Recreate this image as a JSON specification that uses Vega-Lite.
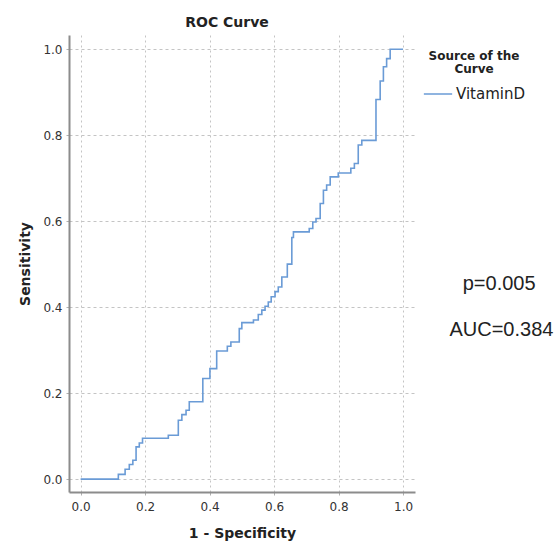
{
  "$schema": "https://vega.github.io/schema/vega-lite/v6.json",
  "width": 346,
  "height": 457,
  "autosize": {"type": "none"},
  "padding": {"left": 69, "top": 35, "right": 143, "bottom": 52},
  "background": "white",
  "config": {
    "view": {"stroke": null},
    "font": "DejaVu Sans",
    "axis": {
      "domainColor": "#8c8c8c",
      "domainWidth": 2,
      "gridColor": "#c4c4c4",
      "gridWidth": 1,
      "tickColor": "#b0b0b0",
      "tickSize": 3,
      "labelFont": "DejaVu Sans",
      "labelFontSize": 12,
      "labelColor": "#333333",
      "titleFont": "DejaVu Sans",
      "titleFontSize": 14,
      "titleFontWeight": "bold",
      "titleColor": "#222222"
    }
  },
  "title": {
    "text": "ROC Curve",
    "font": "DejaVu Sans",
    "fontSize": 14,
    "fontWeight": "bold",
    "color": "#222222",
    "anchor": "middle",
    "dx": -15,
    "offset": 5
  },
  "layer": [
    {
      "data": {
        "values": [
          {"fpr": 0.0, "tpr": 0.0, "source": "VitaminD"},
          {"fpr": 0.117, "tpr": 0.011, "source": "VitaminD"},
          {"fpr": 0.138, "tpr": 0.023, "source": "VitaminD"},
          {"fpr": 0.151, "tpr": 0.034, "source": "VitaminD"},
          {"fpr": 0.162, "tpr": 0.044, "source": "VitaminD"},
          {"fpr": 0.172, "tpr": 0.075, "source": "VitaminD"},
          {"fpr": 0.182, "tpr": 0.084, "source": "VitaminD"},
          {"fpr": 0.192, "tpr": 0.095, "source": "VitaminD"},
          {"fpr": 0.272, "tpr": 0.102, "source": "VitaminD"},
          {"fpr": 0.303, "tpr": 0.137, "source": "VitaminD"},
          {"fpr": 0.314, "tpr": 0.150, "source": "VitaminD"},
          {"fpr": 0.327, "tpr": 0.160, "source": "VitaminD"},
          {"fpr": 0.337, "tpr": 0.180, "source": "VitaminD"},
          {"fpr": 0.379, "tpr": 0.234, "source": "VitaminD"},
          {"fpr": 0.401, "tpr": 0.257, "source": "VitaminD"},
          {"fpr": 0.422, "tpr": 0.298, "source": "VitaminD"},
          {"fpr": 0.455, "tpr": 0.309, "source": "VitaminD"},
          {"fpr": 0.466, "tpr": 0.319, "source": "VitaminD"},
          {"fpr": 0.492, "tpr": 0.350, "source": "VitaminD"},
          {"fpr": 0.500, "tpr": 0.364, "source": "VitaminD"},
          {"fpr": 0.536, "tpr": 0.370, "source": "VitaminD"},
          {"fpr": 0.551, "tpr": 0.383, "source": "VitaminD"},
          {"fpr": 0.562, "tpr": 0.393, "source": "VitaminD"},
          {"fpr": 0.572, "tpr": 0.402, "source": "VitaminD"},
          {"fpr": 0.582, "tpr": 0.412, "source": "VitaminD"},
          {"fpr": 0.591, "tpr": 0.424, "source": "VitaminD"},
          {"fpr": 0.603, "tpr": 0.436, "source": "VitaminD"},
          {"fpr": 0.613, "tpr": 0.447, "source": "VitaminD"},
          {"fpr": 0.624, "tpr": 0.470, "source": "VitaminD"},
          {"fpr": 0.641, "tpr": 0.500, "source": "VitaminD"},
          {"fpr": 0.655, "tpr": 0.562, "source": "VitaminD"},
          {"fpr": 0.660, "tpr": 0.575, "source": "VitaminD"},
          {"fpr": 0.709, "tpr": 0.583, "source": "VitaminD"},
          {"fpr": 0.720, "tpr": 0.598, "source": "VitaminD"},
          {"fpr": 0.730, "tpr": 0.606, "source": "VitaminD"},
          {"fpr": 0.743, "tpr": 0.641, "source": "VitaminD"},
          {"fpr": 0.753, "tpr": 0.672, "source": "VitaminD"},
          {"fpr": 0.763, "tpr": 0.684, "source": "VitaminD"},
          {"fpr": 0.774, "tpr": 0.703, "source": "VitaminD"},
          {"fpr": 0.799, "tpr": 0.712, "source": "VitaminD"},
          {"fpr": 0.838, "tpr": 0.723, "source": "VitaminD"},
          {"fpr": 0.849, "tpr": 0.734, "source": "VitaminD"},
          {"fpr": 0.861, "tpr": 0.777, "source": "VitaminD"},
          {"fpr": 0.872, "tpr": 0.788, "source": "VitaminD"},
          {"fpr": 0.916, "tpr": 0.883, "source": "VitaminD"},
          {"fpr": 0.929, "tpr": 0.926, "source": "VitaminD"},
          {"fpr": 0.939, "tpr": 0.959, "source": "VitaminD"},
          {"fpr": 0.949, "tpr": 0.978, "source": "VitaminD"},
          {"fpr": 0.960, "tpr": 1.0, "source": "VitaminD"},
          {"fpr": 1.0, "tpr": 1.0, "source": "VitaminD"}
        ]
      },
      "mark": {"type": "line", "interpolate": "step-after", "strokeWidth": 1.6},
      "encoding": {
        "x": {
          "field": "fpr",
          "type": "quantitative",
          "title": "1 - Specificity",
          "scale": {"domain": [-0.036, 1.037], "nice": false, "zero": false},
          "axis": {
            "values": [0, 0.2, 0.4, 0.6, 0.8, 1.0],
            "format": ".1f",
            "gridDash": [2, 3],
            "labelPadding": 6,
            "titlePadding": 14
          }
        },
        "y": {
          "field": "tpr",
          "type": "quantitative",
          "title": "Sensitivity",
          "scale": {"domain": [-0.03, 1.033], "nice": false, "zero": false},
          "axis": {
            "values": [0, 0.2, 0.4, 0.6, 0.8, 1.0],
            "format": ".1f",
            "gridDash": [3, 3],
            "labelPadding": 4,
            "titlePadding": 10
          }
        },
        "color": {
          "field": "source",
          "type": "nominal",
          "scale": {"range": ["#6a9bd6"]},
          "legend": {
            "title": ["Source of the", "Curve"],
            "orient": "right",
            "offset": -8,
            "padding": 16,
            "titleFont": "DejaVu Sans",
            "titleFontSize": 12,
            "titleFontWeight": "bold",
            "titleColor": "#222222",
            "titleAnchor": "middle",
            "titleAlign": "center",
            "titleLineHeight": 13,
            "titlePadding": 3,
            "labelFont": "DejaVu Sans",
            "labelFontSize": 15,
            "labelColor": "#222222",
            "labelOffset": 3,
            "symbolType": "stroke",
            "symbolSize": 800,
            "symbolStrokeWidth": 1.5
          }
        }
      }
    },
    {
      "data": {"values": [{"label": "p=0.005"}]},
      "mark": {"type": "text", "font": "Liberation Sans", "fontSize": 20, "color": "#222222", "align": "center", "baseline": "middle"},
      "encoding": {
        "x": {"datum": 1.298, "type": "quantitative"},
        "y": {"datum": 0.454, "type": "quantitative"},
        "text": {"field": "label"}
      }
    },
    {
      "data": {"values": [{"label": "AUC=0.384"}]},
      "mark": {"type": "text", "font": "Liberation Sans", "fontSize": 20, "color": "#222222", "align": "center", "baseline": "middle"},
      "encoding": {
        "x": {"datum": 1.305, "type": "quantitative"},
        "y": {"datum": 0.347, "type": "quantitative"},
        "text": {"field": "label"}
      }
    }
  ]
}
